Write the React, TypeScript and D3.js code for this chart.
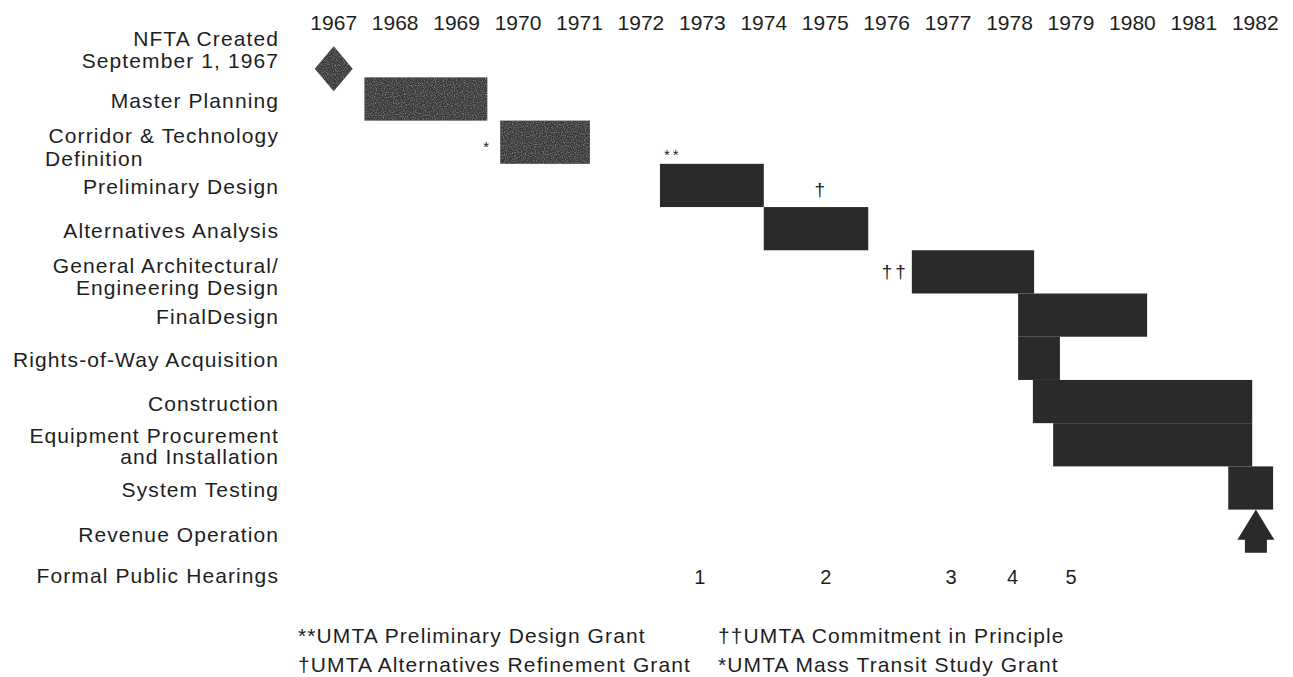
import React from "react";
import * as d3 from "d3";

// ---- Data ----
const yearLabels = ["1967","1968","1969","1970","1971","1972","1973","1974","1975","1976","1977","1978","1979","1980","1981","1982"];

const rowLabels: string[][] = [
  ["NFTA Created", "September 1, 1967"],
  ["Master Planning"],
  ["Corridor & Technology", "Definition"],
  ["Preliminary Design"],
  ["Alternatives Analysis"],
  ["General Architectural/", "Engineering Design"],
  ["FinalDesign"],
  ["Rights-of-Way Acquisition"],
  ["Construction"],
  ["Equipment Procurement", "and Installation"],
  ["System Testing"],
  ["Revenue Operation"],
  ["Formal Public Hearings"],
];

// activity bars (rows 1..10)
const taskRows = [1, 2, 3, 4, 5, 6, 7, 8, 9, 10];
const taskStarts = [1968.0, 1970.21, 1972.81, 1974.5, 1976.91, 1978.64, 1978.64, 1978.88, 1979.21, 1982.06];
const taskEnds = [1970.0, 1971.67, 1974.5, 1976.2, 1978.9, 1980.74, 1979.32, 1982.45, 1982.45, 1982.79];
const taskEarly = [true, true, false, false, false, false, false, false, false, false];

const nftaDate = 1967.5;       // diamond milestone
const nftaRowPos = 0.3;
const revenueDate = 1982.51;   // arrow milestone
const revenueRow = 11;

const hearingRow = 12;
const hearingLabels = ["1", "2", "3", "4", "5"];
const hearingDates = [1973.46, 1975.51, 1977.55, 1978.55, 1979.5];

const grantMarks = ["*", "**", "†", "††"];
const grantDates = [1969.98, 1973.02, 1975.41, 1976.64];
const grantRowPos = [2.23, 2.4, 3.25, 5.14];

const legendCol1 = ["**UMTA Preliminary Design Grant", "†UMTA Alternatives Refinement Grant"];
const legendCol2 = ["††UMTA Commitment in Principle", "*UMTA Mass Transit Study Grant"];

// ---- Chart ----
const W = 1293;
const H = 677;
const FONT = "'Liberation Sans', Arial, Helvetica, sans-serif";
const INK = "#1e1e1e";

export default function App() {
  const x = d3.scaleLinear().domain([1967, 1983]).range([303, 1286]);
  const y = d3.scaleLinear().domain([1, 10]).range([99, 488]);
  const step = y(2) - y(1);
  const labelRight = 279;

  // arrow geometry for revenue operation
  const ax = x(revenueDate);
  const aTop = y(revenueRow) - step / 2;
  const aBot = y(revenueRow) + step / 2;
  const headH = (aBot - aTop) * 0.7;
  const arrowPath = d3.path();
  arrowPath.moveTo(ax, aTop);
  arrowPath.lineTo(ax + 18.5, aTop + headH);
  arrowPath.lineTo(ax + 11, aTop + headH);
  arrowPath.lineTo(ax + 11, aBot);
  arrowPath.lineTo(ax - 11, aBot);
  arrowPath.lineTo(ax - 11, aTop + headH);
  arrowPath.lineTo(ax - 18.5, aTop + headH);
  arrowPath.closePath();

  const dx = x(nftaDate);
  const dy = y(nftaRowPos);
  const diamond = d3.path();
  diamond.moveTo(dx, dy - 22.5);
  diamond.lineTo(dx + 19, dy);
  diamond.lineTo(dx, dy + 22.5);
  diamond.lineTo(dx - 19, dy);
  diamond.closePath();

  const firstOffset = (i: number) => (i === 0 ? -10 : i === 9 ? -2 : 1);
  const lineGap = (i: number) => (i === 9 ? 21.5 : 22.5);

  return (
    <svg
      width={W}
      height={H}
      style={{ position: "absolute", left: 0, top: 0, background: "#fff" }}
      fontFamily={FONT}
    >
      <defs>
        <filter id="grain" x="0" y="0" width="1" height="1">
          <feTurbulence type="fractalNoise" baseFrequency="0.9" numOctaves="1" seed="3" result="n" />
          <feColorMatrix in="n" type="matrix"
            values="0 0 0 0 0.35  0 0 0 0 0.35  0 0 0 0 0.35  0 0 0 1.6 -0.75" result="dots" />
          <feComposite in="dots" in2="SourceGraphic" operator="in" result="d2" />
          <feMerge>
            <feMergeNode in="SourceGraphic" />
            <feMergeNode in="d2" />
          </feMerge>
        </filter>
      </defs>

      {/* year axis */}
      {yearLabels.map((yl) => (
        <text key={yl} x={x(+yl + 0.5)} y={30} textAnchor="middle" fontSize={21} fill={INK}>
          {yl}
        </text>
      ))}

      {/* row labels */}
      {rowLabels.map((lines, i) => {
        const c = y(i);
        if (lines.length === 1) {
          return (
            <text key={i} x={labelRight} y={c + (i === 11 ? 11 : 9)} textAnchor="end" fontSize={21} letterSpacing={1.1} fill={INK}>
              {lines[0]}
            </text>
          );
        }
        const b0 = c + firstOffset(i);
        const leftAligned = i === 2;
        return (
          <g key={i}>
            <text x={labelRight} y={b0} textAnchor="end" fontSize={21} letterSpacing={1.1} fill={INK}>
              {lines[0]}
            </text>
            <text
              x={leftAligned ? 45 : labelRight}
              y={b0 + lineGap(i)}
              textAnchor={leftAligned ? "start" : "end"}
              fontSize={21}
              letterSpacing={1.1}
              fill={INK}
            >
              {lines[1]}
            </text>
          </g>
        );
      })}

      {/* diamond milestone */}
      <path d={diamond.toString()} fill="#3a3a3a" filter="url(#grain)" />

      {/* bars */}
      {taskRows.map((r, i) => (
        <rect
          key={r}
          x={x(taskStarts[i])}
          y={y(r) - step / 2}
          width={x(taskEnds[i]) - x(taskStarts[i])}
          height={step}
          fill={taskEarly[i] ? "#3a3a3a" : "#2a2a2a"}
          filter={taskEarly[i] ? "url(#grain)" : undefined}
        />
      ))}

      {/* revenue arrow */}
      <path d={arrowPath.toString()} fill="#2a2a2a" />

      {/* grant marks */}
      {grantMarks.map((m, i) => (
        <text
          key={m}
          x={x(grantDates[i])}
          y={y(grantRowPos[i])}
          textAnchor="middle"
          fontSize={m.includes("*") ? 15 : 19}
          letterSpacing={m.length > 1 ? 3 : 0}
          fill={INK}
        >
          {m}
        </text>
      ))}

      {/* public hearings */}
      {hearingLabels.map((h, i) => (
        <text key={h} x={x(hearingDates[i])} y={y(hearingRow) + 10} textAnchor="middle" fontSize={20} fill={INK}>
          {h}
        </text>
      ))}

      {/* legend */}
      {legendCol1.map((t, i) => (
        <text key={t} x={298} y={643 + i * 29} fontSize={21} letterSpacing={1.1} fill={INK}>
          {t}
        </text>
      ))}
      {legendCol2.map((t, i) => (
        <text key={t} x={718} y={643 + i * 29} fontSize={21} letterSpacing={1.1} fill={INK}>
          {t}
        </text>
      ))}
    </svg>
  );
}
